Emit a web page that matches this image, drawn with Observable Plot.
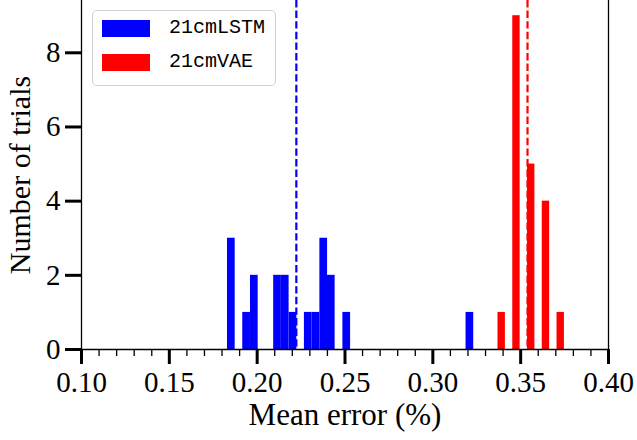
<!DOCTYPE html>
<html>
<head>
<meta charset="utf-8">
<script src="https://cdn.jsdelivr.net/npm/d3@7"></script>
<script src="https://cdn.jsdelivr.net/npm/@observablehq/plot@0.6"></script>
<style>
  html, body { margin: 0; padding: 0; background: #fff; }
  #wrap { position: relative; width: 637px; height: 440px; overflow: hidden; }
  #wrap svg text { font-family: "Liberation Serif", serif; }
  #legend {
    position: absolute; left: 92px; top: 10px; width: 182px; height: 74px;
    border: 1.3px solid #d3d3d3; border-radius: 5px; background: rgba(255,255,255,0.8);
    font-family: "Liberation Mono", "DejaVu Sans Mono", monospace; font-size: 20px; color: #000;
  }
  .row { position: absolute; left: 9px; height: 17px; }
  .sw { position: absolute; left: 0; top: 0; width: 48px; height: 17px; }
  .lb { position: absolute; left: 67px; top: -4px; white-space: nowrap; line-height: 24px; }
</style>
</head>
<body>
<div id="wrap"></div>
<script>
// ---- data ----
const seriesNames = ["21cmLSTM", "21cmVAE"];
const seriesColors = ["#0000ff", "#ff0000"];

// 21cmLSTM histogram: bin left edges and counts
const lstmBinStart = [0.1831, 0.1918, 0.1962, 0.2094, 0.2138, 0.2182, 0.2269, 0.2313, 0.2357, 0.2400, 0.2488, 0.3189];
const lstmCounts   = [3, 1, 2, 2, 2, 1, 1, 1, 3, 2, 1, 1];
const lstmBinWidth = 0.00438;

// 21cmVAE histogram: bin left edges and counts
const vaeBinStart = [0.3371, 0.3455, 0.3539, 0.3623, 0.3707];
const vaeCounts   = [1, 9, 5, 4, 1];
const vaeBinWidth = 0.0042;

// mean errors (dashed lines)
const means = [0.2223, 0.3539];

// axes
const xMajorTicks = [0.10, 0.15, 0.20, 0.25, 0.30, 0.35, 0.40];
const xMinorTicks = [0.11,0.12,0.13,0.14,0.16,0.17,0.18,0.19,0.21,0.22,0.23,0.24,0.26,0.27,0.28,0.29,0.31,0.32,0.33,0.34,0.36,0.37,0.38,0.39];
const yTicks = [0, 2, 4, 6, 8];
const xDomain = [0.10, 0.40];
const yDomain = [0, 9.41];
const xLabel = "Mean error (%)";
const yLabel = "Number of trials";

// ---- build table ----
const bars = [];
lstmBinStart.forEach((s, i) => bars.push({series: seriesNames[0], x1: s, x2: s + lstmBinWidth, n: lstmCounts[i]}));
vaeBinStart.forEach((s, i) => bars.push({series: seriesNames[1], x1: s, x2: s + vaeBinWidth, n: vaeCounts[i]}));
const meanRows = means.map((m, i) => ({series: seriesNames[i], m}));

const serif = "Liberation Serif";

const chart = Plot.plot({
  width: 637,
  height: 440,
  marginLeft: 81,
  marginRight: 29,
  marginTop: 0,
  marginBottom: 91,
  style: {fontFamily: serif, fontSize: "29px", background: "white", color: "black", overflow: "visible"},
  x: {domain: xDomain},
  y: {domain: yDomain},
  color: {domain: seriesNames, range: seriesColors},
  marks: [
    Plot.rectY(bars, {x1: "x1", x2: "x2", y1: 0, y2: "n", fill: "series"}),
    Plot.ruleX(meanRows, {x: "m", stroke: "series", strokeWidth: 2.2, strokeDasharray: "7.4,3.2"}),
    Plot.ruleX([xDomain[0], xDomain[1]], {stroke: "black", strokeWidth: 1.3}),
    Plot.ruleY([yDomain[0]], {stroke: "black", strokeWidth: 1.3}),
    Plot.axisX(xMinorTicks, {tickSize: 7, strokeWidth: 1.3, tickFormat: () => "", label: null}),
    Plot.axisX(xMajorTicks, {tickSize: 15, strokeWidth: 3, tickPadding: 7, tickFormat: d3.format(".2f"), fontSize: 29, fontFamily: serif, label: null}),
    Plot.axisY(yTicks, {tickSize: 16, strokeWidth: 3, tickPadding: 5, tickFormat: d3.format("d"), fontSize: 29, fontFamily: serif, label: null}),
    Plot.text([xLabel], {frameAnchor: "bottom", dy: 66, fontSize: 31, fontFamily: serif, textAnchor: "middle", lineAnchor: "middle", clip: false}),
    Plot.text([yLabel], {frameAnchor: "left", dx: -61, rotate: -90, fontSize: 30, fontFamily: serif, textAnchor: "middle", lineAnchor: "middle", clip: false})
  ]
});

const wrap = document.getElementById("wrap");
wrap.appendChild(chart);

// legend overlay
const legend = document.createElement("div");
legend.id = "legend";
seriesNames.forEach((name, i) => {
  const row = document.createElement("div");
  row.className = "row";
  row.style.top = (9 + i * 34) + "px";
  const sw = document.createElement("div");
  sw.className = "sw";
  sw.style.background = seriesColors[i];
  const lb = document.createElement("div");
  lb.className = "lb";
  lb.textContent = name;
  row.appendChild(sw);
  row.appendChild(lb);
  legend.appendChild(row);
});
wrap.appendChild(legend);
</script>
</body>
</html>
